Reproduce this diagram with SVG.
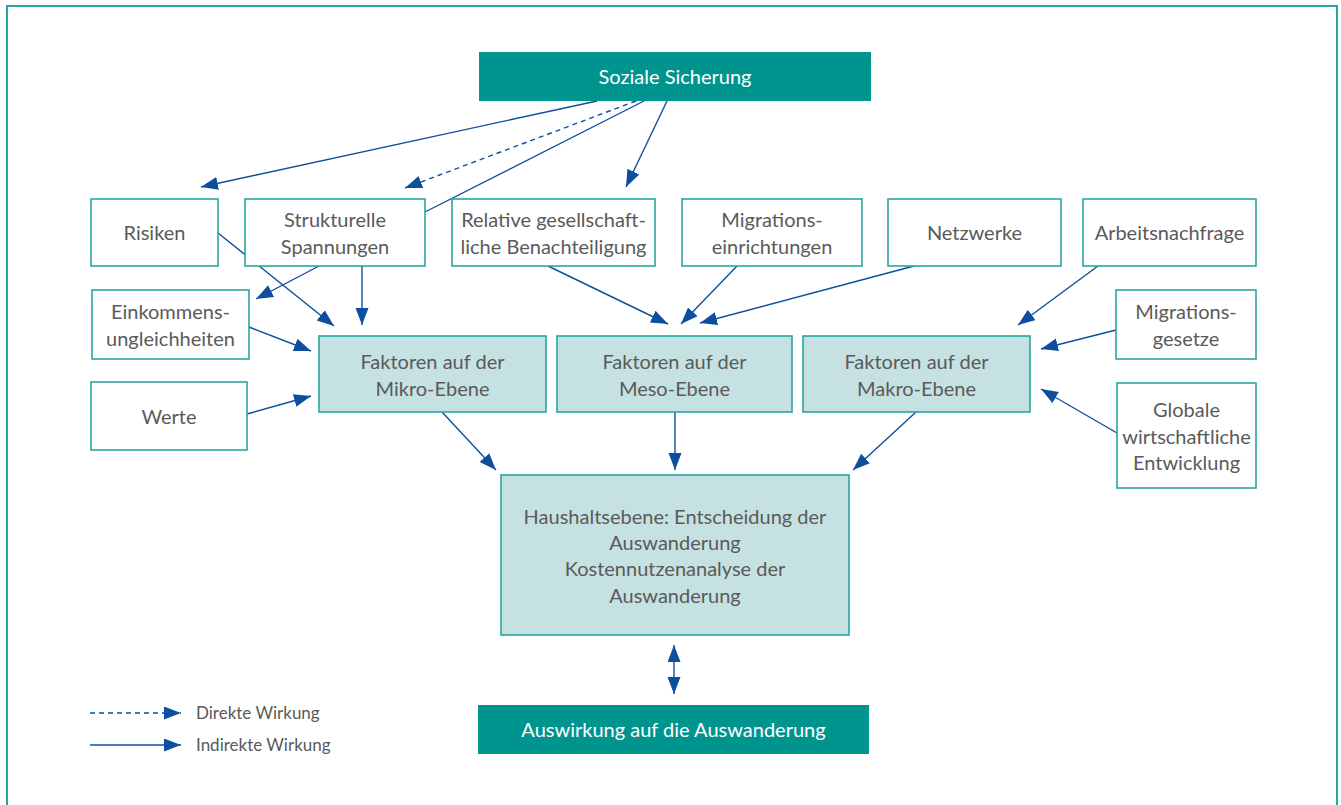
<svg xmlns="http://www.w3.org/2000/svg" width="1341" height="805" viewBox="0 0 1341 805">
  <style>
    .frame { fill: #ffffff; stroke: #2aa6a0; stroke-width: 2; }
    .box { fill: #ffffff; stroke: #2aa6a0; stroke-width: 1.6; }
    .lvl { fill: #c6e1e1; stroke: #2aa6a0; stroke-width: 1.6; }
    .dark { fill: #00948f; }
    .t { font-family: Lato, "Open Sans", sans-serif; font-size: 20px; fill: #5a5a5a; text-anchor: middle; }
    .w { fill: #ffffff; }
    .leg { font-family: Lato, "Open Sans", sans-serif; font-size: 17px; fill: #5a5a5a; }
    .c { stroke: #0d4f9e; stroke-width: 1.4; fill: none; }
    .arr { marker-end: url(#ah); }
    .dash { stroke-dasharray: 5 4; }
  </style>
  <defs>
    <marker id="ah" markerUnits="userSpaceOnUse" markerWidth="18" markerHeight="14" refX="17" refY="6.5" orient="auto">
      <path d="M0,0 L17,6.5 L0,13 Z" fill="#0d4f9e"/>
    </marker>
    <marker id="ahs" markerUnits="userSpaceOnUse" markerWidth="18" markerHeight="14" refX="17" refY="6.5" orient="auto-start-reverse">
      <path d="M0,0 L17,6.5 L0,13 Z" fill="#0d4f9e"/>
    </marker>
  </defs>

  <!-- outer frame -->
  <rect class="frame" x="7" y="6" width="1330" height="810"/>

  <!-- connectors (drawn beneath the boxes) -->
  <g id="connectors">
    <line class="c arr" x1="597" y1="101" x2="201" y2="187"/>
    <line class="c arr dash" x1="636" y1="101" x2="405" y2="188"/>
    <line class="c" x1="644" y1="101" x2="425" y2="212"/>
    <line class="c arr" x1="667" y1="101" x2="626" y2="187"/>

    <line class="c arr" x1="218" y1="233" x2="334" y2="326"/>
    <line class="c arr" x1="319" y1="266" x2="256" y2="299"/>
    <line class="c arr" x1="362" y1="266" x2="362" y2="325"/>
    <line class="c arr" x1="249" y1="327" x2="311" y2="351"/>
    <line class="c arr" x1="247" y1="414" x2="311" y2="396"/>

    <line class="c arr" x1="548" y1="266" x2="668" y2="324"/>
    <line class="c arr" x1="737" y1="266" x2="681" y2="324"/>
    <line class="c arr" x1="914" y1="266" x2="700" y2="323"/>

    <line class="c arr" x1="1098" y1="266" x2="1018" y2="325"/>
    <line class="c arr" x1="1116" y1="330" x2="1041" y2="349"/>
    <line class="c arr" x1="1117" y1="433" x2="1041" y2="389"/>

    <line class="c arr" x1="442" y1="412" x2="496" y2="470"/>
    <line class="c arr" x1="675" y1="412" x2="675" y2="470"/>
    <line class="c arr" x1="916" y1="412" x2="853" y2="470"/>

    <line x1="674" y1="645" x2="674" y2="694" stroke="#0d4f9e" stroke-width="1.4" marker-start="url(#ahs)" marker-end="url(#ah)"/>
  </g>

  <!-- top node -->
  <g id="soziale-sicherung">
    <rect class="dark" x="479" y="52" width="392" height="49"/>
    <text class="t w" x="675" y="84">Soziale Sicherung</text>
  </g>

  <!-- first row of factors -->
  <g id="risiken">
    <rect class="box" x="91" y="199" width="127" height="67"/>
    <text class="t" x="154.5" y="240">Risiken</text>
  </g>
  <g id="strukturelle-spannungen">
    <rect class="box" x="245" y="199" width="180" height="67"/>
    <text class="t" x="335" y="227">Strukturelle</text>
    <text class="t" x="335" y="254">Spannungen</text>
  </g>
  <g id="relative-benachteiligung">
    <rect class="box" x="452" y="199" width="203" height="67"/>
    <text class="t" x="553.5" y="227">Relative gesellschaft-</text>
    <text class="t" x="553.5" y="254">liche Benachteiligung</text>
  </g>
  <g id="migrationseinrichtungen">
    <rect class="box" x="682" y="199" width="180" height="67"/>
    <text class="t" x="772" y="227">Migrations-</text>
    <text class="t" x="772" y="254">einrichtungen</text>
  </g>
  <g id="netzwerke">
    <rect class="box" x="888" y="199" width="173" height="67"/>
    <text class="t" x="974.5" y="240">Netzwerke</text>
  </g>
  <g id="arbeitsnachfrage">
    <rect class="box" x="1083" y="199" width="173" height="67"/>
    <text class="t" x="1169.5" y="240">Arbeitsnachfrage</text>
  </g>

  <!-- side factors -->
  <g id="einkommensungleichheiten">
    <rect class="box" x="92" y="290" width="157" height="69"/>
    <text class="t" x="170.5" y="319">Einkommens-</text>
    <text class="t" x="170.5" y="346">ungleichheiten</text>
  </g>
  <g id="werte">
    <rect class="box" x="91" y="382" width="156" height="68"/>
    <text class="t" x="169" y="424">Werte</text>
  </g>
  <g id="migrationsgesetze">
    <rect class="box" x="1116" y="290" width="140" height="69"/>
    <text class="t" x="1186" y="319">Migrations-</text>
    <text class="t" x="1186" y="346">gesetze</text>
  </g>
  <g id="globale-entwicklung">
    <rect class="box" x="1117" y="383" width="139" height="105"/>
    <text class="t" x="1186.5" y="417">Globale</text>
    <text class="t" x="1186.5" y="444">wirtschaftliche</text>
    <text class="t" x="1186.5" y="470">Entwicklung</text>
  </g>

  <!-- level boxes -->
  <g id="mikro-ebene">
    <rect class="lvl" x="319" y="336" width="227" height="76"/>
    <text class="t" x="432.5" y="369">Faktoren auf der</text>
    <text class="t" x="432.5" y="396">Mikro-Ebene</text>
  </g>
  <g id="meso-ebene">
    <rect class="lvl" x="557" y="336" width="235" height="76"/>
    <text class="t" x="674.5" y="369">Faktoren auf der</text>
    <text class="t" x="674.5" y="396">Meso-Ebene</text>
  </g>
  <g id="makro-ebene">
    <rect class="lvl" x="803" y="336" width="227" height="76"/>
    <text class="t" x="916.5" y="369">Faktoren auf der</text>
    <text class="t" x="916.5" y="396">Makro-Ebene</text>
  </g>

  <!-- household decision -->
  <g id="haushaltsebene">
    <rect class="lvl" x="501" y="475" width="348" height="160"/>
    <text class="t" x="675" y="524">Haushaltsebene: Entscheidung der</text>
    <text class="t" x="675" y="550">Auswanderung</text>
    <text class="t" x="675" y="576">Kostennutzenanalyse der</text>
    <text class="t" x="675" y="603">Auswanderung</text>
  </g>

  <!-- outcome -->
  <g id="auswirkung">
    <rect class="dark" x="478" y="705" width="391" height="49"/>
    <text class="t w" x="673.5" y="737">Auswirkung auf die Auswanderung</text>
  </g>

  <!-- legend -->
  <g id="legende">
    <line class="c arr dash" x1="90" y1="713" x2="181" y2="713"/>
    <line class="c arr" x1="90" y1="745" x2="181" y2="745"/>
    <text class="leg" x="196" y="719">Direkte Wirkung</text>
    <text class="leg" x="196" y="751">Indirekte Wirkung</text>
  </g>
</svg>
